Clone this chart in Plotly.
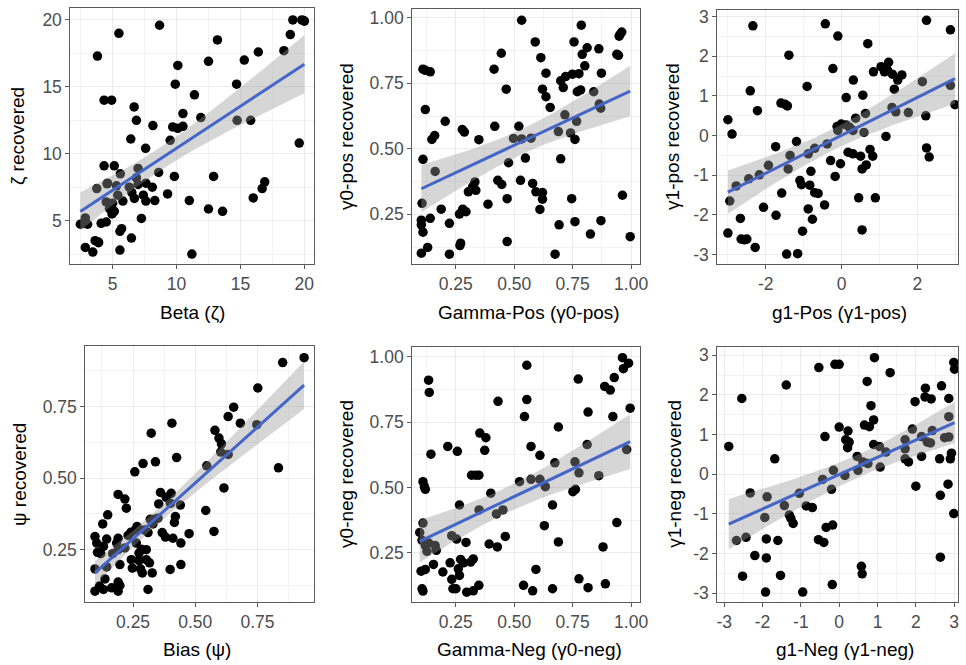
import numpy as np
import plotly.graph_objects as go

# ---------------- data ----------------
beta_x = [8.67, 5.49, 3.81, 19.1, 19.8, 20.0, 18.9, 13.2, 18.4, 16.4, 15.3, 12.5, 10.1, 9.9, 14.7,
          11.4, 4.33, 4.92, 6.68, 6.86, 10.5, 11.9, 14.74, 15.8, 8.15, 9.7, 10.1, 10.5, 6.42, 9.5,
          19.6, 7.58, 4.33, 5.13, 8.6, 6.99, 9.83, 12.9, 5.6, 4.6, 5.3, 3.76, 6.3, 6.99, 7.6, 8.1,
          6.86, 6.5, 7.4, 9.3, 16.9, 16.7, 16.0, 6.7, 7.6, 8.3, 11.0, 5.8, 4.5, 5.0, 4.75, 5.13,
          4.95, 12.5, 13.6, 7.25, 2.47, 3.04, 4.1, 4.5, 5.7, 5.57, 2.86, 6.47, 3.63, 3.89, 2.86,
          3.45, 5.57, 11.2, 4.56, 5.4, 3.9, 2.7, 19.95]
beta_y = [19.6, 19.0, 17.3, 20.0, 20.0, 19.9, 18.9, 18.5, 17.7, 17.6, 17.0, 16.9, 16.6, 15.2, 15.2,
          14.4, 14.0, 14.0, 13.5, 12.5, 13.0, 12.7, 12.5, 12.5, 12.1, 12.0, 11.9, 12.05, 11.1, 11.0,
          10.8, 10.4, 9.1, 9.1, 8.6, 8.9, 8.3, 8.3, 8.5, 7.8, 7.6, 7.4, 7.5, 7.7, 7.8, 7.5,
          8.2, 7.1, 6.9, 7.0, 7.9, 7.4, 6.7, 6.66, 6.46, 6.5, 6.5, 6.46, 6.4, 6.3, 5.9, 5.7,
          5.5, 5.87, 5.7, 5.17, 4.73, 4.73, 4.8, 4.9, 4.4, 4.2, 5.2, 3.7, 3.5, 3.4, 3.0,
          2.65, 2.8, 2.5, 7.75, 6.9, 3.35, 4.78, 19.95]

gpos_x = [0.532, 0.787, 0.960, 0.953, 0.949, 0.590, 0.756, 0.445, 0.939, 0.946, 0.791, 0.812, 0.862,
          0.614, 0.802, 0.414, 0.110, 0.120, 0.141, 0.636, 0.873, 0.777, 0.749, 0.720, 0.699, 0.710,
          0.466, 0.621, 0.784, 0.770, 0.840, 0.636, 0.120, 0.654, 0.864, 0.870, 0.717, 0.205, 0.767,
          0.417, 0.520, 0.278, 0.287, 0.689, 0.741, 0.160, 0.148, 0.349, 0.497, 0.532, 0.572, 0.760,
          0.110, 0.548, 0.699, 0.162, 0.476, 0.430, 0.447, 0.527, 0.579, 0.332, 0.322, 0.304, 0.336,
          0.593, 0.621, 0.621, 0.388, 0.470, 0.746, 0.963, 0.106, 0.188, 0.280, 0.294, 0.266, 0.610,
          0.141, 0.103, 0.103, 0.110, 0.223, 0.692, 0.760, 0.871, 0.826, 0.996, 0.130, 0.271, 0.268,
          0.470, 0.103, 0.223, 0.675]
gpos_y = [0.991, 0.972, 0.946, 0.937, 0.930, 0.908, 0.908, 0.865, 0.861, 0.857, 0.861, 0.886, 0.882,
          0.848, 0.817, 0.804, 0.804, 0.800, 0.794, 0.789, 0.789, 0.787, 0.785, 0.776, 0.760, 0.734,
          0.728, 0.728, 0.725, 0.718, 0.718, 0.699, 0.650, 0.658, 0.671, 0.655, 0.630, 0.605, 0.605,
          0.586, 0.586, 0.574, 0.564, 0.566, 0.561, 0.551, 0.536, 0.535, 0.540, 0.538, 0.541, 0.536,
          0.460, 0.465, 0.462, 0.414, 0.447, 0.380, 0.364, 0.380, 0.368, 0.374, 0.355, 0.336, 0.342,
          0.336, 0.333, 0.308, 0.289, 0.310, 0.310, 0.323, 0.292, 0.270, 0.270, 0.260, 0.251, 0.269,
          0.235, 0.228, 0.210, 0.182, 0.216, 0.210, 0.222, 0.226, 0.175, 0.165, 0.124, 0.140, 0.131,
          0.146, 0.102, 0.098, 0.098]

g1pos_x = [-2.34, -0.43, -0.10, 0.69, 2.24, 2.87, -1.39, -0.23, 0.84, 1.04, 1.24, 1.13, 1.21, 1.34,
           1.59, 1.48, 1.39, 0.31, -0.91, -2.41, 2.13, 2.87, 0.12, 0.56, -1.60, -1.49, -1.43, -2.22,
           1.76, 1.33, 1.43, 2.99, 2.22, -3.00, -2.89, 0.63, 0.37, -0.12, -0.01, 0.12, 0.21, -0.10,
           0.30, 0.59, 1.17, -1.19, -0.38, -0.71, -1.74, -0.88, -1.36, 0.17, 0.30, 0.50, 0.75, 0.82,
           2.24, 2.31, -0.29, -0.03, 0.65, 0.54, -1.41, -1.93, -2.17, -2.45, -2.78, -0.81, -0.17,
           -1.10, -1.06, -0.84, -0.71, -0.62, -1.58, 0.45, 0.89, -0.45, -2.06, -1.73, -0.88, -0.77,
           -2.95, -2.67, -3.00, -2.65, -2.56, -2.50, -2.28, -1.03, 0.54, -1.45, -1.16]
g1pos_y = [2.77, 2.82, 2.51, 2.32, 2.91, 2.67, 2.03, 1.69, 1.61, 1.74, 1.85, 1.61, 1.65, 1.55,
           1.53, 1.40, 1.17, 1.40, 1.24, 1.13, 1.36, 1.27, 0.96, 1.02, 0.82, 0.79, 0.75, 0.63,
           0.58, 0.71, 0.60, 0.78, 0.50, 0.40, 0.04, 0.56, 0.44, 0.23, 0.29, 0.27, 0.21, 0.13,
           0.13, 0.08, -0.02, -0.15, -0.21, -0.32, -0.28, -0.46, -0.50, -0.42, -0.46, -0.52, -0.35, -0.52,
           -0.31, -0.54, -0.63, -0.71, -0.74, -0.84, -0.84, -0.75, -0.99, -1.09, -1.27, -0.90, -1.03,
           -1.13, -1.24, -1.25, -1.44, -1.46, -1.45, -1.57, -1.57, -1.75, -1.81, -2.01, -1.85, -2.11,
           -1.65, -2.09, -2.46, -2.61, -2.63, -2.61, -2.82, -2.41, -2.38, -2.99, -2.98]

bias_x = [0.937, 0.851, 0.751, 0.654, 0.632, 0.681, 0.406, 0.747, 0.579, 0.595, 0.605, 0.602, 0.632,
          0.323, 0.425, 0.340, 0.290, 0.257, 0.546, 0.834, 0.615, 0.190, 0.217, 0.223, 0.360, 0.403,
          0.383, 0.353, 0.400, 0.440, 0.420, 0.416, 0.542, 0.575, 0.475, 0.148, 0.128, 0.319, 0.336,
          0.266, 0.241, 0.296, 0.310, 0.367, 0.380, 0.410, 0.442, 0.097, 0.104, 0.144, 0.131, 0.190,
          0.184, 0.107, 0.120, 0.168, 0.190, 0.217, 0.263, 0.283, 0.303, 0.274, 0.243, 0.274, 0.303,
          0.316, 0.247, 0.280, 0.287, 0.327, 0.399, 0.442, 0.197, 0.097, 0.144, 0.137, 0.190, 0.097,
          0.131, 0.164, 0.190, 0.197, 0.310, 0.115, 0.350, 0.330, 0.230, 0.260]
bias_y = [0.921, 0.904, 0.815, 0.748, 0.715, 0.692, 0.692, 0.687, 0.667, 0.640, 0.620, 0.591, 0.583,
          0.657, 0.572, 0.557, 0.551, 0.522, 0.543, 0.536, 0.466, 0.443, 0.427, 0.395, 0.450, 0.447,
          0.433, 0.410, 0.412, 0.406, 0.366, 0.345, 0.387, 0.314, 0.306, 0.372, 0.340, 0.356, 0.356,
          0.331, 0.311, 0.319, 0.310, 0.310, 0.294, 0.290, 0.273, 0.296, 0.273, 0.287, 0.262, 0.290,
          0.273, 0.241, 0.236, 0.236, 0.250, 0.256, 0.273, 0.252, 0.250, 0.238, 0.215, 0.212, 0.215,
          0.204, 0.186, 0.183, 0.169, 0.169, 0.181, 0.198, 0.198, 0.183, 0.190, 0.148, 0.137, 0.105,
          0.111, 0.117, 0.105, 0.125, 0.111, 0.123, 0.360, 0.340, 0.300, 0.320]

gneg_x = [0.963, 0.989, 0.967, 0.554, 0.134, 0.137, 0.774, 0.887, 0.911, 0.928, 0.431, 0.554, 0.996,
          0.816, 0.544, 0.922, 0.689, 0.353, 0.379, 0.144, 0.216, 0.257, 0.374, 0.572, 0.610, 0.812,
          0.981, 0.674, 0.760, 0.777, 0.862, 0.318, 0.336, 0.349, 0.110, 0.116, 0.120, 0.523, 0.572,
          0.610, 0.633, 0.751, 0.762, 0.400, 0.266, 0.350, 0.424, 0.452, 0.664, 0.629, 0.939, 0.110,
          0.096, 0.106, 0.233, 0.254, 0.294, 0.393, 0.428, 0.462, 0.689, 0.880, 0.120, 0.134, 0.162,
          0.167, 0.127, 0.102, 0.120, 0.155, 0.195, 0.226, 0.271, 0.283, 0.314, 0.325, 0.261, 0.266,
          0.233, 0.238, 0.251, 0.297, 0.325, 0.349, 0.106, 0.110, 0.593, 0.540, 0.579, 0.664, 0.777,
          0.816, 0.890]
gneg_y = [0.996, 0.975, 0.954, 0.967, 0.910, 0.863, 0.914, 0.886, 0.872, 0.920, 0.829, 0.836, 0.803,
          0.788, 0.771, 0.771, 0.731, 0.708, 0.690, 0.627, 0.657, 0.638, 0.642, 0.657, 0.623, 0.664,
          0.645, 0.594, 0.598, 0.556, 0.545, 0.547, 0.547, 0.547, 0.522, 0.503, 0.493, 0.522, 0.531,
          0.531, 0.503, 0.484, 0.493, 0.478, 0.433, 0.414, 0.399, 0.414, 0.433, 0.354, 0.366, 0.364,
          0.328, 0.298, 0.316, 0.303, 0.290, 0.284, 0.273, 0.313, 0.292, 0.273, 0.278, 0.288, 0.278,
          0.260, 0.256, 0.180, 0.187, 0.206, 0.177, 0.212, 0.225, 0.212, 0.215, 0.227, 0.189, 0.164,
          0.149, 0.113, 0.113, 0.100, 0.105, 0.126, 0.113, 0.104, 0.187, 0.126, 0.105, 0.113, 0.151,
          0.117, 0.132]

g1neg_x = [-2.88, -2.54, -1.38, -1.68, -0.53, -0.11, 0.00, 0.92, 0.73, 1.33, 0.83, 0.90, 0.66, 0.79,
           0.00, 0.23, 0.17, 0.26, 0.22, -0.37, 0.90, 1.05, 1.22, 0.47, 0.62, 0.75, 0.49, 1.07, 1.98,
           2.25, 2.24, 2.40, 2.67, 2.86, 2.99, 3.01, 2.86, 1.91, 2.15, 2.43, 2.30, 2.38, 2.75, 2.86,
           2.93, 2.90, 2.62, 2.15, 1.72, 1.72, 1.72, 2.00, 2.84, 2.64, 2.99, 2.64, -0.15, 0.15, -0.43,
           -0.20, -1.04, -2.32, -1.88, -1.43, -0.86, -0.70, -1.30, -1.26, -1.20, -1.94, -0.34, -0.17,
           -0.54, -0.40, -2.68, -2.43, -1.90, -1.60, -2.20, -1.90, 0.58, 0.60, -0.18, -2.52, -1.53,
           -1.92, -0.95, 1.81]
g1neg_y = [0.70, 1.91, 2.25, 0.39, 2.69, 2.77, 2.77, 2.94, 2.34, 2.56, 1.73, 1.37, 1.24, 1.20,
           1.19, 1.09, 0.87, 0.81, 0.67, 0.95, 0.75, 0.70, 0.56, 0.45, 0.31, 0.27, 0.10, 0.18, 1.83,
           2.17, 1.95, 1.90, 2.23, 1.91, 2.82, 2.65, 1.45, 1.14, 0.95, 1.10, 0.81, 0.79, 0.92, 0.94,
           0.53, 0.39, 0.39, 0.45, 0.64, 0.39, 0.87, -0.30, -0.25, -0.53, -0.99, -2.09, 0.10, -0.03, -0.13,
           -0.38, -0.48, -0.47, -0.57, -0.79, -0.80, -0.84, -1.03, -1.11, -1.24, -1.09, -1.34, -1.28,
           -1.65, -1.72, -1.67, -1.59, -1.63, -1.67, -2.05, -2.11, -2.32, -2.51, -2.78, -2.57, -2.55,
           -2.97, -2.97, 0.31]

x_titles = ["Beta (\u03b6)", "Gamma-Pos (\u03b30-pos)", "g1-Pos (\u03b31-pos)",
            "Bias (\u03c8)", "Gamma-Neg (\u03b30-neg)", "g1-Neg (\u03b31-neg)"]
y_titles = ["\u03b6 recovered", "\u03b30-pos recovered", "\u03b31-pos recovered",
            "\u03c8 recovered", "\u03b30-neg recovered", "\u03b31-neg recovered"]

zeta_ticks = [5, 10, 15, 20]
unit_ticks = [0.25, 0.50, 0.75, 1.00]
bias_ticks = [0.25, 0.50, 0.75]
g_pos_xticks = [-2, 0, 2]
g_ticks = [-3, -2, -1, 0, 1, 2, 3]

T975 = 1.988  # Student t quantile for the 95% band (df ~ 85)

# ---------------- layout geometry (pixels) ----------------
W, H = 966, 665
FONT = "Liberation Sans, Arial, Helvetica, sans-serif"
TICK_SIZE = 17.5
TITLE_SIZE = 19

panels = [
    dict(x=beta_x, y=beta_y, box=(70, 316, 5, 263), xr=[1.69, 20.76], yr=[1.73, 20.89],
         xt=zeta_ticks, yt=zeta_ticks, fmt="d", xminor=2.5, yminor=2.5, x0=0, y0=0),
    dict(x=gpos_x, y=gpos_y, box=(415, 645, 6, 263), xr=[0.0636, 1.038], yr=[0.059, 1.034],
         xt=unit_ticks, yt=unit_ticks, fmt=".2f", xminor=0.125, yminor=0.125, x0=0, y0=0),
    dict(x=g1pos_x, y=g1pos_y, box=(723, 966, 7, 263), xr=[-3.28, 3.07], yr=[-3.25, 3.17],
         xt=g_pos_xticks, yt=g_ticks, fmt="d", xminor=1, yminor=0.5, x0=-3, y0=0),
    dict(x=bias_x, y=bias_y, box=(85, 316, 345, 603), xr=[0.0577, 0.977], yr=[0.066, 0.962],
         xt=bias_ticks, yt=bias_ticks, fmt=".2f", xminor=0.125, yminor=0.125, x0=0, y0=0),
    dict(x=gneg_x, y=gneg_y, box=(415, 645, 346, 603), xr=[0.0636, 1.038], yr=[0.061, 1.037],
         xt=unit_ticks, yt=unit_ticks, fmt=".2f", xminor=0.125, yminor=0.125, x0=0, y0=0),
    dict(x=g1neg_x, y=g1neg_y, box=(723, 966, 346, 603), xr=[-3.18, 3.10], yr=[-3.23, 3.21],
         xt=g_ticks, yt=g_ticks, fmt="d", xminor=0.5, yminor=0.5, x0=0, y0=0),
]

# axis title centres (pixels)
xtitle_pos = [(193, 311), (533, 311), (846, 311), (198, 650), (533, 650), (852, 650)]
ytitle_pos = [(16, 134), (348, 134), (678, 134), (18, 474), (348, 474), (679, 474)]

fig = go.Figure()
layout = dict(width=W, height=H, margin=dict(l=0, r=0, t=0, b=0),
              paper_bgcolor="white", plot_bgcolor="white", showlegend=False,
              font=dict(family=FONT, size=TICK_SIZE, color="#4D4D4D"))
annotations = []


def fmt_tick(v, fmt):
    return f"{v:{fmt}}" if fmt != "d" else f"{int(v)}"


for i, p in enumerate(panels, start=1):
    xa = "x" if i == 1 else f"x{i}"
    ya = "y" if i == 1 else f"y{i}"
    xs = np.array(p["x"], dtype=float)
    ys = np.array(p["y"], dtype=float)

    # points
    fig.add_trace(go.Scatter(x=xs, y=ys, mode="markers", xaxis=xa, yaxis=ya,
                             marker=dict(color="black", size=9.5, line=dict(width=0)),
                             hoverinfo="x+y"))

    # linear fit with 95% confidence band (as geom_smooth(method="lm"))
    n = len(xs)
    b1, b0 = np.polyfit(xs, ys, 1)
    resid = ys - (b0 + b1 * xs)
    s = np.sqrt(np.sum(resid ** 2) / (n - 2))
    xbar = xs.mean()
    sxx = np.sum((xs - xbar) ** 2)
    xg = np.linspace(xs.min(), xs.max(), 80)
    yg = b0 + b1 * xg
    se = s * np.sqrt(1.0 / n + (xg - xbar) ** 2 / sxx)
    lo, hi = yg - T975 * se, yg + T975 * se
    fig.add_trace(go.Scatter(x=np.concatenate([xg, xg[::-1]]), y=np.concatenate([hi, lo[::-1]]),
                             mode="lines", fill="toself", fillcolor="rgba(153,153,153,0.4)",
                             line=dict(width=0), xaxis=xa, yaxis=ya, hoverinfo="skip"))
    fig.add_trace(go.Scatter(x=xg, y=yg, mode="lines", line=dict(color="#4466C8", width=3),
                             xaxis=xa, yaxis=ya, hoverinfo="skip"))

    l, r, t, b = p["box"]
    common = dict(showline=True, mirror=True, linecolor="#5A5A5A", linewidth=1,
                  ticks="outside", ticklen=4, tickwidth=1, tickcolor="#5A5A5A",
                  showgrid=True, gridcolor="#EBEBEB", gridwidth=1, zeroline=False,
                  tickfont=dict(family=FONT, size=TICK_SIZE, color="#4D4D4D"),
                  ticklabeloverflow="allow")
    layout["xaxis" if i == 1 else f"xaxis{i}"] = dict(
        common, domain=[l / W, r / W], range=p["xr"], anchor=ya,
        tickvals=p["xt"], ticktext=[fmt_tick(v, p["fmt"]) for v in p["xt"]],
        minor=dict(showgrid=True, gridcolor="#F3F3F3", gridwidth=1, dtick=p["xminor"],
                   tick0=p["x0"], ticks=""))
    layout["yaxis" if i == 1 else f"yaxis{i}"] = dict(
        common, domain=[1 - b / H, 1 - t / H], range=p["yr"], anchor=xa,
        tickvals=p["yt"], ticktext=[fmt_tick(v, p["fmt"]) for v in p["yt"]],
        minor=dict(showgrid=True, gridcolor="#F3F3F3", gridwidth=1, dtick=p["yminor"],
                   tick0=p["y0"], ticks=""))

    tx, ty = xtitle_pos[i - 1]
    annotations.append(dict(text=x_titles[i - 1], x=tx / W, y=1 - ty / H, xref="paper",
                            yref="paper", xanchor="center", yanchor="middle", showarrow=False,
                            font=dict(family=FONT, size=TITLE_SIZE, color="black")))
    vx, vy = ytitle_pos[i - 1]
    annotations.append(dict(text=y_titles[i - 1], x=vx / W, y=1 - vy / H, xref="paper",
                            yref="paper", xanchor="center", yanchor="middle", showarrow=False,
                            textangle=-90, font=dict(family=FONT, size=TITLE_SIZE, color="black")))

layout["annotations"] = annotations
fig.update_layout(**layout)
fig.write_html("out.html")
